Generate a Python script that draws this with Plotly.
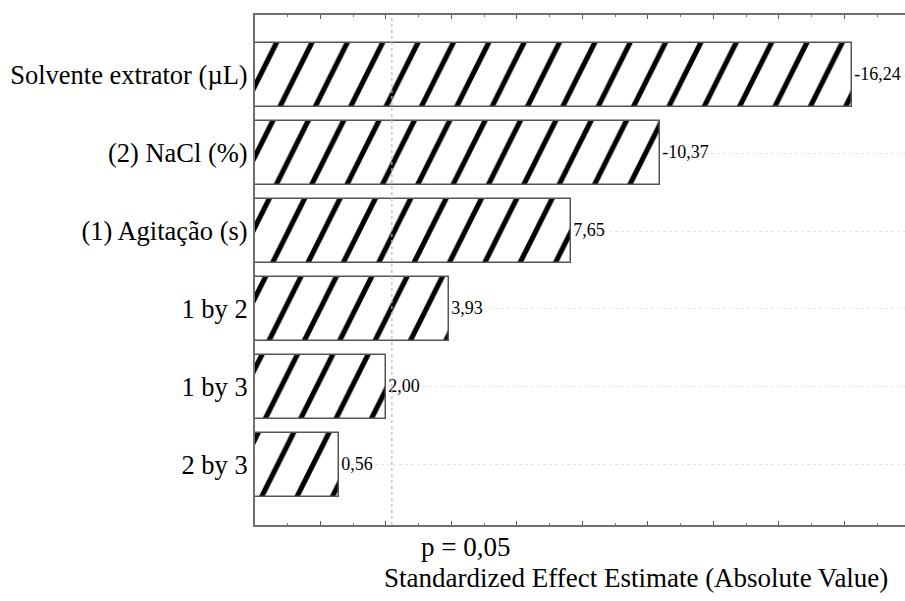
import plotly.graph_objects as go

# Pareto chart of standardized effects
factors = [
    "Solvente extrator (µL)",
    "(2) NaCl (%)",
    "(1) Agitação (s)",
    "1 by 2",
    "1 by 3",
    "2 by 3",
]
effects = [-16.24, -10.37, 7.65, 3.93, 2.00, 0.56]
p_critical = 2.18          # t value for p = 0,05
x_start, x_end = -2.0, 17.85

abs_effects = [abs(e) for e in effects]

serif = "Liberation Serif, Times New Roman, serif"

fig = go.Figure()
fig.add_trace(go.Bar(
    y=factors,
    x=[a - x_start for a in abs_effects],
    base=x_start,
    orientation="h",
    width=0.81,
    customdata=effects,
    texttemplate="%{customdata:.2f}",
    textposition="outside",
    textfont=dict(family=serif, size=18, color="black"),
    marker=dict(
        color="white",
        line=dict(color="#555555", width=1.5),
        pattern=dict(shape="/", size=50, solidity=0.16,
                     fgcolor="black", bgcolor="white", fillmode="replace"),
    ),
    hoverinfo="skip",
    showlegend=False,
))

fig.add_shape(type="line", xref="x", yref="paper",
              x0=p_critical, x1=p_critical, y0=0, y1=1,
              line=dict(color="#e6a3ad", width=1.2, dash="dot"))

fig.add_annotation(text="p = 0,05", xref="paper", yref="paper",
                   x=(465 - 255) / 650, y=(525 - 547) / 510,
                   showarrow=False, font=dict(family=serif, size=27, color="black"),
                   xanchor="center", yanchor="middle")
fig.add_annotation(text="Standardized Effect Estimate (Absolute Value)",
                   xref="paper", yref="paper",
                   x=(636 - 255) / 650, y=(525 - 578) / 510,
                   showarrow=False, font=dict(family=serif, size=27, color="black"),
                   xanchor="center", yanchor="middle")

fig.update_layout(
    width=905, height=601,
    margin=dict(l=255, r=0, t=15, b=76),
    paper_bgcolor="white", plot_bgcolor="white",
    separators=",.",
    font=dict(family=serif, color="black"),
    bargap=0,
)
fig.update_xaxes(
    range=[x_start, x_end],
    showgrid=False, zeroline=False,
    showline=True, linecolor="#6e6e6e", linewidth=2, mirror="ticks",
    ticks="inside", tick0=0, dtick=2, ticklen=4, tickcolor="#555555",
    minor=dict(ticks="inside", dtick=1, ticklen=2, tickcolor="#777777"),
    showticklabels=False,
)
fig.update_yaxes(
    type="category", categoryorder="array", categoryarray=factors,
    range=[5.77, -0.77],
    showgrid=True, gridcolor="#e6e6e6", griddash="dot", gridwidth=1,
    showline=True, linecolor="#6e6e6e", linewidth=2,
    ticks="", tickfont=dict(family=serif, size=26.5, color="black"),
)

skew_js = """
var gd = document.getElementById('{plot_id}');
function skewHatch() {
  gd.querySelectorAll('pattern').forEach(function (p) {
    p.setAttribute('patternTransform', 'scale(0.5,1)');
  });
}
skewHatch();
gd.on('plotly_afterplot', skewHatch);
"""

fig.write_html("out.html", post_script=skew_js)
